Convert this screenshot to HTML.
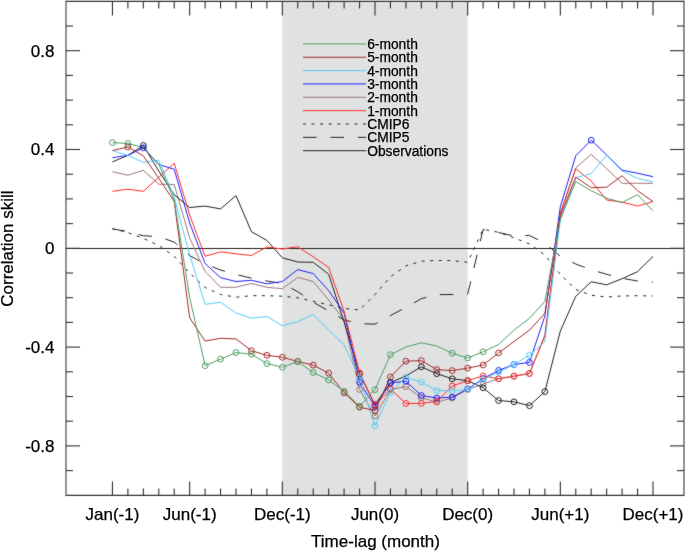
<!DOCTYPE html>
<html><head><meta charset="utf-8"><title>Correlation skill</title>
<style>html,body{margin:0;padding:0;background:#fff;}svg{display:block;}</style></head>
<body><svg width="685" height="551" viewBox="0 0 685 551" font-family='"Liberation Sans", Arial, Helvetica, sans-serif'><defs><filter id="bl" x="0" y="0" width="685" height="551" filterUnits="userSpaceOnUse" color-interpolation-filters="sRGB"><feConvolveMatrix order="3" kernelMatrix="1 2 1 2 28 2 1 2 1" edgeMode="duplicate" preserveAlpha="true"/></filter></defs><rect width="685" height="551" fill="#fff"/><g filter="url(#bl)"><rect width="685" height="551" fill="#fff"/>
<rect x="282.33" y="1.4" width="185.33" height="494.0" fill="#e0e1e1"/>
<line x1="66.0" y1="248.5" x2="684.0" y2="248.5" stroke="#222" stroke-width="1"/>
<polyline points="112.45,228.80 127.89,232.50 143.34,238.40 158.78,245.40 174.23,256.30 189.67,273.00 205.11,287.50 220.56,294.50 236.00,297.20 251.45,295.70 266.89,295.70 282.33,296.20 297.78,297.80 313.22,301.30 328.67,304.80 344.11,308.40 359.55,310.00 375.00,294.50 390.44,276.80 405.89,265.90 421.33,261.20 436.77,260.50 452.22,260.60 467.66,262.30 483.11,229.30 498.55,232.30 513.99,237.80 529.44,243.90 544.88,255.00 560.33,274.50 575.77,289.50 591.21,295.30 606.66,297.00 622.10,296.00 637.55,295.70 652.99,296.00" fill="none" stroke="#222" stroke-width="1" stroke-dasharray="3.0,5.56" stroke-dashoffset="0.4" stroke-linejoin="round"/>
<polyline points="112.45,228.80 127.89,231.60 143.34,235.80 158.78,236.50 174.23,242.20 189.67,255.50 205.11,264.00 220.56,270.00 236.00,274.50 251.45,278.20 266.89,281.00 282.33,283.50 297.78,291.70 313.22,302.20 328.67,311.00 344.11,320.00 359.55,323.60 375.00,324.20 390.44,315.50 405.89,307.40 421.33,298.70 436.77,294.70 452.22,294.50 467.66,294.30 483.11,229.50 498.55,232.50 513.99,236.00 529.44,235.50 544.88,243.00 560.33,256.30 575.77,264.00 591.21,269.80 606.66,274.30 622.10,278.30 637.55,281.00 652.99,282.20" fill="none" stroke="#222" stroke-width="1" stroke-dasharray="13.6,13.88" stroke-dashoffset="0.7" stroke-linejoin="round"/>
<polyline points="112.45,171.70 127.89,175.20 143.34,170.30 158.78,184.20 174.23,184.50 189.67,238.00 205.11,271.50 220.56,287.30 236.00,287.30 251.45,283.40 266.89,287.30 282.33,288.70 297.78,277.40 313.22,281.50 328.67,300.00 344.11,320.00 359.55,389.50 375.00,416.00 390.44,389.60 405.89,386.60 421.33,397.70 436.77,402.10 452.22,398.00 467.66,389.50 483.11,384.00 498.55,378.70 513.99,376.30 529.44,373.60 544.88,335.00 560.33,213.00 575.77,167.90 591.21,154.30 606.66,168.80 622.10,183.30 637.55,183.30 652.99,183.30" fill="none" stroke="#9c7676" stroke-width="1" stroke-linejoin="round"/>
<polyline points="112.45,161.90 127.89,155.40 143.34,145.50 158.78,171.00 174.23,194.60 189.67,207.50 205.11,206.10 220.56,208.90 236.00,195.60 251.45,231.70 266.89,240.40 282.33,257.80 297.78,262.00 313.22,262.30 328.67,274.20 344.11,322.00 359.55,374.00 375.00,404.70 390.44,382.50 405.89,376.00 421.33,366.80 436.77,373.70 452.22,378.80 467.66,380.70 483.11,387.80 498.55,400.50 513.99,401.80 529.44,405.70 544.88,391.60 560.33,331.00 575.77,296.30 591.21,281.80 606.66,284.80 622.10,278.70 637.55,271.70 652.99,256.40" fill="none" stroke="#222" stroke-width="1" stroke-linejoin="round"/>
<polyline points="112.45,157.70 127.89,155.40 143.34,147.80 158.78,164.50 174.23,169.30 189.67,223.00 205.11,263.50 220.56,277.70 236.00,281.50 251.45,280.30 266.89,283.80 282.33,281.50 297.78,269.60 313.22,273.60 328.67,290.60 344.11,313.00 359.55,382.30 375.00,406.50 390.44,383.00 405.89,381.20 421.33,395.50 436.77,398.10 452.22,397.10 467.66,388.90 483.11,378.60 498.55,370.40 513.99,364.50 529.44,362.40 544.88,316.00 560.33,206.70 575.77,155.70 591.21,140.20 606.66,154.80 622.10,170.20 637.55,173.20 652.99,176.70" fill="none" stroke="#2020ff" stroke-width="1" stroke-linejoin="round"/>
<polyline points="112.45,191.30 127.89,189.20 143.34,191.30 158.78,177.30 174.23,163.20 189.67,215.00 205.11,256.30 220.56,251.80 236.00,253.80 251.45,255.50 266.89,247.00 282.33,249.00 297.78,246.70 313.22,256.80 328.67,267.40 344.11,311.50 359.55,372.80 375.00,405.10 390.44,389.00 405.89,403.50 421.33,403.40 436.77,401.50 452.22,386.00 467.66,380.60 483.11,375.90 498.55,378.80 513.99,376.00 529.44,373.40 544.88,336.00 560.33,213.30 575.77,168.80 591.21,181.10 606.66,200.00 622.10,202.10 637.55,206.10 652.99,201.60" fill="none" stroke="#ff2a2a" stroke-width="1" stroke-linejoin="round"/>
<polyline points="112.45,150.50 127.89,155.40 143.34,162.30 158.78,160.20 174.23,197.00 189.67,255.00 205.11,304.30 220.56,302.30 236.00,312.80 251.45,318.10 266.89,316.50 282.33,325.80 297.78,321.50 313.22,314.50 328.67,330.00 344.11,344.70 359.55,378.20 375.00,425.80 390.44,392.30 405.89,377.40 421.33,382.10 436.77,390.60 452.22,390.80 467.66,389.50 483.11,379.40 498.55,372.20 513.99,364.40 529.44,355.20 544.88,341.50 560.33,220.00 575.77,177.60 591.21,173.70 606.66,155.10 622.10,171.00 637.55,178.40 652.99,181.90" fill="none" stroke="#55ccf5" stroke-width="1" stroke-linejoin="round"/>
<polyline points="112.45,150.50 127.89,147.00 143.34,155.80 158.78,178.30 174.23,201.50 189.67,317.70 205.11,341.10 220.56,338.30 236.00,338.90 251.45,350.70 266.89,355.30 282.33,357.30 297.78,361.40 313.22,365.10 328.67,373.20 344.11,392.80 359.55,407.20 375.00,410.50 390.44,377.00 405.89,361.20 421.33,360.60 436.77,369.60 452.22,370.60 467.66,368.10 483.11,365.00 498.55,353.00 513.99,341.50 529.44,330.20 544.88,313.30 560.33,215.70 575.77,177.20 591.21,187.70 606.66,187.20 622.10,175.80 637.55,190.70 652.99,201.60" fill="none" stroke="#a52a2a" stroke-width="1" stroke-linejoin="round"/>
<polyline points="112.45,142.60 127.89,143.50 143.34,147.50 158.78,164.00 174.23,200.00 189.67,297.50 205.11,365.70 220.56,359.10 236.00,352.60 251.45,354.20 266.89,363.60 282.33,367.20 297.78,361.60 313.22,372.50 328.67,380.00 344.11,391.30 359.55,406.30 375.00,389.70 390.44,354.70 405.89,347.00 421.33,342.80 436.77,346.00 452.22,353.20 467.66,358.00 483.11,351.80 498.55,344.50 513.99,330.20 529.44,318.30 544.88,301.50 560.33,219.00 575.77,181.60 591.21,190.70 606.66,198.20 622.10,202.60 637.55,194.60 652.99,210.80" fill="none" stroke="#4e9e62" stroke-width="1" stroke-linejoin="round"/>
<circle cx="359.55" cy="389.50" r="2.9" fill="none" stroke="#9c7676" stroke-width="1"/>
<circle cx="375.00" cy="416.00" r="2.9" fill="none" stroke="#9c7676" stroke-width="1"/>
<circle cx="390.44" cy="389.60" r="2.9" fill="none" stroke="#9c7676" stroke-width="1"/>
<circle cx="405.89" cy="386.60" r="2.9" fill="none" stroke="#9c7676" stroke-width="1"/>
<circle cx="421.33" cy="397.70" r="2.9" fill="none" stroke="#9c7676" stroke-width="1"/>
<circle cx="436.77" cy="402.10" r="2.9" fill="none" stroke="#9c7676" stroke-width="1"/>
<circle cx="452.22" cy="398.00" r="2.9" fill="none" stroke="#9c7676" stroke-width="1"/>
<circle cx="467.66" cy="389.50" r="2.9" fill="none" stroke="#9c7676" stroke-width="1"/>
<circle cx="483.11" cy="384.00" r="2.9" fill="none" stroke="#9c7676" stroke-width="1"/>
<circle cx="498.55" cy="378.70" r="2.9" fill="none" stroke="#9c7676" stroke-width="1"/>
<circle cx="513.99" cy="376.30" r="2.9" fill="none" stroke="#9c7676" stroke-width="1"/>
<circle cx="529.44" cy="373.60" r="2.9" fill="none" stroke="#9c7676" stroke-width="1"/>
<circle cx="143.34" cy="145.50" r="2.9" fill="none" stroke="#222" stroke-width="1"/>
<circle cx="359.55" cy="374.00" r="2.9" fill="none" stroke="#222" stroke-width="1"/>
<circle cx="375.00" cy="404.70" r="2.9" fill="none" stroke="#222" stroke-width="1"/>
<circle cx="390.44" cy="382.50" r="2.9" fill="none" stroke="#222" stroke-width="1"/>
<circle cx="421.33" cy="366.80" r="2.9" fill="none" stroke="#222" stroke-width="1"/>
<circle cx="436.77" cy="373.70" r="2.9" fill="none" stroke="#222" stroke-width="1"/>
<circle cx="452.22" cy="378.80" r="2.9" fill="none" stroke="#222" stroke-width="1"/>
<circle cx="467.66" cy="380.70" r="2.9" fill="none" stroke="#222" stroke-width="1"/>
<circle cx="483.11" cy="387.80" r="2.9" fill="none" stroke="#222" stroke-width="1"/>
<circle cx="498.55" cy="400.50" r="2.9" fill="none" stroke="#222" stroke-width="1"/>
<circle cx="513.99" cy="401.80" r="2.9" fill="none" stroke="#222" stroke-width="1"/>
<circle cx="529.44" cy="405.70" r="2.9" fill="none" stroke="#222" stroke-width="1"/>
<circle cx="544.88" cy="391.60" r="2.9" fill="none" stroke="#222" stroke-width="1"/>
<circle cx="143.34" cy="147.80" r="2.9" fill="none" stroke="#2020ff" stroke-width="1"/>
<circle cx="359.55" cy="382.30" r="2.9" fill="none" stroke="#2020ff" stroke-width="1"/>
<circle cx="375.00" cy="406.50" r="2.9" fill="none" stroke="#2020ff" stroke-width="1"/>
<circle cx="390.44" cy="383.00" r="2.9" fill="none" stroke="#2020ff" stroke-width="1"/>
<circle cx="405.89" cy="381.20" r="2.9" fill="none" stroke="#2020ff" stroke-width="1"/>
<circle cx="421.33" cy="395.50" r="2.9" fill="none" stroke="#2020ff" stroke-width="1"/>
<circle cx="436.77" cy="398.10" r="2.9" fill="none" stroke="#2020ff" stroke-width="1"/>
<circle cx="452.22" cy="397.10" r="2.9" fill="none" stroke="#2020ff" stroke-width="1"/>
<circle cx="467.66" cy="388.90" r="2.9" fill="none" stroke="#2020ff" stroke-width="1"/>
<circle cx="483.11" cy="378.60" r="2.9" fill="none" stroke="#2020ff" stroke-width="1"/>
<circle cx="498.55" cy="370.40" r="2.9" fill="none" stroke="#2020ff" stroke-width="1"/>
<circle cx="513.99" cy="364.50" r="2.9" fill="none" stroke="#2020ff" stroke-width="1"/>
<circle cx="529.44" cy="362.40" r="2.9" fill="none" stroke="#2020ff" stroke-width="1"/>
<circle cx="591.21" cy="140.20" r="2.9" fill="none" stroke="#2020ff" stroke-width="1"/>
<circle cx="359.55" cy="372.80" r="2.9" fill="none" stroke="#ff2a2a" stroke-width="1"/>
<circle cx="375.00" cy="405.10" r="2.9" fill="none" stroke="#ff2a2a" stroke-width="1"/>
<circle cx="390.44" cy="389.00" r="2.9" fill="none" stroke="#ff2a2a" stroke-width="1"/>
<circle cx="405.89" cy="403.50" r="2.9" fill="none" stroke="#ff2a2a" stroke-width="1"/>
<circle cx="421.33" cy="403.40" r="2.9" fill="none" stroke="#ff2a2a" stroke-width="1"/>
<circle cx="436.77" cy="401.50" r="2.9" fill="none" stroke="#ff2a2a" stroke-width="1"/>
<circle cx="452.22" cy="386.00" r="2.9" fill="none" stroke="#ff2a2a" stroke-width="1"/>
<circle cx="467.66" cy="380.60" r="2.9" fill="none" stroke="#ff2a2a" stroke-width="1"/>
<circle cx="483.11" cy="375.90" r="2.9" fill="none" stroke="#ff2a2a" stroke-width="1"/>
<circle cx="498.55" cy="378.80" r="2.9" fill="none" stroke="#ff2a2a" stroke-width="1"/>
<circle cx="513.99" cy="376.00" r="2.9" fill="none" stroke="#ff2a2a" stroke-width="1"/>
<circle cx="529.44" cy="373.40" r="2.9" fill="none" stroke="#ff2a2a" stroke-width="1"/>
<circle cx="359.55" cy="378.20" r="2.9" fill="none" stroke="#55ccf5" stroke-width="1"/>
<circle cx="375.00" cy="425.80" r="2.9" fill="none" stroke="#55ccf5" stroke-width="1"/>
<circle cx="390.44" cy="392.30" r="2.9" fill="none" stroke="#55ccf5" stroke-width="1"/>
<circle cx="405.89" cy="377.40" r="2.9" fill="none" stroke="#55ccf5" stroke-width="1"/>
<circle cx="421.33" cy="382.10" r="2.9" fill="none" stroke="#55ccf5" stroke-width="1"/>
<circle cx="436.77" cy="390.60" r="2.9" fill="none" stroke="#55ccf5" stroke-width="1"/>
<circle cx="452.22" cy="390.80" r="2.9" fill="none" stroke="#55ccf5" stroke-width="1"/>
<circle cx="467.66" cy="389.50" r="2.9" fill="none" stroke="#55ccf5" stroke-width="1"/>
<circle cx="483.11" cy="379.40" r="2.9" fill="none" stroke="#55ccf5" stroke-width="1"/>
<circle cx="498.55" cy="372.20" r="2.9" fill="none" stroke="#55ccf5" stroke-width="1"/>
<circle cx="513.99" cy="364.40" r="2.9" fill="none" stroke="#55ccf5" stroke-width="1"/>
<circle cx="529.44" cy="355.20" r="2.9" fill="none" stroke="#55ccf5" stroke-width="1"/>
<circle cx="127.89" cy="147.00" r="2.9" fill="none" stroke="#a52a2a" stroke-width="1"/>
<circle cx="251.45" cy="350.70" r="2.9" fill="none" stroke="#a52a2a" stroke-width="1"/>
<circle cx="266.89" cy="355.30" r="2.9" fill="none" stroke="#a52a2a" stroke-width="1"/>
<circle cx="282.33" cy="357.30" r="2.9" fill="none" stroke="#a52a2a" stroke-width="1"/>
<circle cx="297.78" cy="361.40" r="2.9" fill="none" stroke="#a52a2a" stroke-width="1"/>
<circle cx="313.22" cy="365.10" r="2.9" fill="none" stroke="#a52a2a" stroke-width="1"/>
<circle cx="328.67" cy="373.20" r="2.9" fill="none" stroke="#a52a2a" stroke-width="1"/>
<circle cx="344.11" cy="392.80" r="2.9" fill="none" stroke="#a52a2a" stroke-width="1"/>
<circle cx="359.55" cy="407.20" r="2.9" fill="none" stroke="#a52a2a" stroke-width="1"/>
<circle cx="375.00" cy="410.50" r="2.9" fill="none" stroke="#a52a2a" stroke-width="1"/>
<circle cx="390.44" cy="377.00" r="2.9" fill="none" stroke="#a52a2a" stroke-width="1"/>
<circle cx="405.89" cy="361.20" r="2.9" fill="none" stroke="#a52a2a" stroke-width="1"/>
<circle cx="421.33" cy="360.60" r="2.9" fill="none" stroke="#a52a2a" stroke-width="1"/>
<circle cx="436.77" cy="369.60" r="2.9" fill="none" stroke="#a52a2a" stroke-width="1"/>
<circle cx="452.22" cy="370.60" r="2.9" fill="none" stroke="#a52a2a" stroke-width="1"/>
<circle cx="467.66" cy="368.10" r="2.9" fill="none" stroke="#a52a2a" stroke-width="1"/>
<circle cx="483.11" cy="365.00" r="2.9" fill="none" stroke="#a52a2a" stroke-width="1"/>
<circle cx="498.55" cy="353.00" r="2.9" fill="none" stroke="#a52a2a" stroke-width="1"/>
<circle cx="112.45" cy="142.60" r="2.9" fill="none" stroke="#4e9e62" stroke-width="1"/>
<circle cx="127.89" cy="143.50" r="2.9" fill="none" stroke="#4e9e62" stroke-width="1"/>
<circle cx="205.11" cy="365.70" r="2.9" fill="none" stroke="#4e9e62" stroke-width="1"/>
<circle cx="220.56" cy="359.10" r="2.9" fill="none" stroke="#4e9e62" stroke-width="1"/>
<circle cx="236.00" cy="352.60" r="2.9" fill="none" stroke="#4e9e62" stroke-width="1"/>
<circle cx="251.45" cy="354.20" r="2.9" fill="none" stroke="#4e9e62" stroke-width="1"/>
<circle cx="266.89" cy="363.60" r="2.9" fill="none" stroke="#4e9e62" stroke-width="1"/>
<circle cx="282.33" cy="367.20" r="2.9" fill="none" stroke="#4e9e62" stroke-width="1"/>
<circle cx="297.78" cy="361.60" r="2.9" fill="none" stroke="#4e9e62" stroke-width="1"/>
<circle cx="313.22" cy="372.50" r="2.9" fill="none" stroke="#4e9e62" stroke-width="1"/>
<circle cx="328.67" cy="380.00" r="2.9" fill="none" stroke="#4e9e62" stroke-width="1"/>
<circle cx="344.11" cy="391.30" r="2.9" fill="none" stroke="#4e9e62" stroke-width="1"/>
<circle cx="359.55" cy="406.30" r="2.9" fill="none" stroke="#4e9e62" stroke-width="1"/>
<circle cx="375.00" cy="389.70" r="2.9" fill="none" stroke="#4e9e62" stroke-width="1"/>
<circle cx="390.44" cy="354.70" r="2.9" fill="none" stroke="#4e9e62" stroke-width="1"/>
<circle cx="452.22" cy="353.20" r="2.9" fill="none" stroke="#4e9e62" stroke-width="1"/>
<circle cx="467.66" cy="358.00" r="2.9" fill="none" stroke="#4e9e62" stroke-width="1"/>
<circle cx="483.11" cy="351.80" r="2.9" fill="none" stroke="#4e9e62" stroke-width="1"/>
<line x1="66.0" y1="0.8" x2="66.0" y2="496" stroke="#000" stroke-width="0.85"/>
<line x1="684.0" y1="0.8" x2="684.0" y2="496" stroke="#000" stroke-width="0.85"/>
<line x1="66.0" y1="1.4" x2="684.0" y2="1.4" stroke="#333" stroke-width="1.2"/>
<line x1="66.0" y1="495.4" x2="684.0" y2="495.4" stroke="#333" stroke-width="1.2"/>
<line x1="112.45" y1="495.4" x2="112.45" y2="481.4" stroke="#2e2e2e" stroke-width="1.1"/>
<line x1="112.45" y1="1.4" x2="112.45" y2="15.4" stroke="#2e2e2e" stroke-width="1.1"/>
<line x1="127.89" y1="495.4" x2="127.89" y2="488.4" stroke="#2e2e2e" stroke-width="1.1"/>
<line x1="127.89" y1="1.4" x2="127.89" y2="8.4" stroke="#2e2e2e" stroke-width="1.1"/>
<line x1="143.34" y1="495.4" x2="143.34" y2="488.4" stroke="#2e2e2e" stroke-width="1.1"/>
<line x1="143.34" y1="1.4" x2="143.34" y2="8.4" stroke="#2e2e2e" stroke-width="1.1"/>
<line x1="158.78" y1="495.4" x2="158.78" y2="488.4" stroke="#2e2e2e" stroke-width="1.1"/>
<line x1="158.78" y1="1.4" x2="158.78" y2="8.4" stroke="#2e2e2e" stroke-width="1.1"/>
<line x1="174.23" y1="495.4" x2="174.23" y2="488.4" stroke="#2e2e2e" stroke-width="1.1"/>
<line x1="174.23" y1="1.4" x2="174.23" y2="8.4" stroke="#2e2e2e" stroke-width="1.1"/>
<line x1="189.67" y1="495.4" x2="189.67" y2="481.4" stroke="#2e2e2e" stroke-width="1.1"/>
<line x1="189.67" y1="1.4" x2="189.67" y2="15.4" stroke="#2e2e2e" stroke-width="1.1"/>
<line x1="205.11" y1="495.4" x2="205.11" y2="488.4" stroke="#2e2e2e" stroke-width="1.1"/>
<line x1="205.11" y1="1.4" x2="205.11" y2="8.4" stroke="#2e2e2e" stroke-width="1.1"/>
<line x1="220.56" y1="495.4" x2="220.56" y2="488.4" stroke="#2e2e2e" stroke-width="1.1"/>
<line x1="220.56" y1="1.4" x2="220.56" y2="8.4" stroke="#2e2e2e" stroke-width="1.1"/>
<line x1="236.00" y1="495.4" x2="236.00" y2="488.4" stroke="#2e2e2e" stroke-width="1.1"/>
<line x1="236.00" y1="1.4" x2="236.00" y2="8.4" stroke="#2e2e2e" stroke-width="1.1"/>
<line x1="251.45" y1="495.4" x2="251.45" y2="488.4" stroke="#2e2e2e" stroke-width="1.1"/>
<line x1="251.45" y1="1.4" x2="251.45" y2="8.4" stroke="#2e2e2e" stroke-width="1.1"/>
<line x1="266.89" y1="495.4" x2="266.89" y2="488.4" stroke="#2e2e2e" stroke-width="1.1"/>
<line x1="266.89" y1="1.4" x2="266.89" y2="8.4" stroke="#2e2e2e" stroke-width="1.1"/>
<line x1="282.33" y1="495.4" x2="282.33" y2="481.4" stroke="#2e2e2e" stroke-width="1.1"/>
<line x1="282.33" y1="1.4" x2="282.33" y2="15.4" stroke="#2e2e2e" stroke-width="1.1"/>
<line x1="297.78" y1="495.4" x2="297.78" y2="488.4" stroke="#2e2e2e" stroke-width="1.1"/>
<line x1="297.78" y1="1.4" x2="297.78" y2="8.4" stroke="#2e2e2e" stroke-width="1.1"/>
<line x1="313.22" y1="495.4" x2="313.22" y2="488.4" stroke="#2e2e2e" stroke-width="1.1"/>
<line x1="313.22" y1="1.4" x2="313.22" y2="8.4" stroke="#2e2e2e" stroke-width="1.1"/>
<line x1="328.67" y1="495.4" x2="328.67" y2="488.4" stroke="#2e2e2e" stroke-width="1.1"/>
<line x1="328.67" y1="1.4" x2="328.67" y2="8.4" stroke="#2e2e2e" stroke-width="1.1"/>
<line x1="344.11" y1="495.4" x2="344.11" y2="488.4" stroke="#2e2e2e" stroke-width="1.1"/>
<line x1="344.11" y1="1.4" x2="344.11" y2="8.4" stroke="#2e2e2e" stroke-width="1.1"/>
<line x1="359.55" y1="495.4" x2="359.55" y2="488.4" stroke="#2e2e2e" stroke-width="1.1"/>
<line x1="359.55" y1="1.4" x2="359.55" y2="8.4" stroke="#2e2e2e" stroke-width="1.1"/>
<line x1="375.00" y1="495.4" x2="375.00" y2="481.4" stroke="#2e2e2e" stroke-width="1.1"/>
<line x1="375.00" y1="1.4" x2="375.00" y2="15.4" stroke="#2e2e2e" stroke-width="1.1"/>
<line x1="390.44" y1="495.4" x2="390.44" y2="488.4" stroke="#2e2e2e" stroke-width="1.1"/>
<line x1="390.44" y1="1.4" x2="390.44" y2="8.4" stroke="#2e2e2e" stroke-width="1.1"/>
<line x1="405.89" y1="495.4" x2="405.89" y2="488.4" stroke="#2e2e2e" stroke-width="1.1"/>
<line x1="405.89" y1="1.4" x2="405.89" y2="8.4" stroke="#2e2e2e" stroke-width="1.1"/>
<line x1="421.33" y1="495.4" x2="421.33" y2="488.4" stroke="#2e2e2e" stroke-width="1.1"/>
<line x1="421.33" y1="1.4" x2="421.33" y2="8.4" stroke="#2e2e2e" stroke-width="1.1"/>
<line x1="436.77" y1="495.4" x2="436.77" y2="488.4" stroke="#2e2e2e" stroke-width="1.1"/>
<line x1="436.77" y1="1.4" x2="436.77" y2="8.4" stroke="#2e2e2e" stroke-width="1.1"/>
<line x1="452.22" y1="495.4" x2="452.22" y2="488.4" stroke="#2e2e2e" stroke-width="1.1"/>
<line x1="452.22" y1="1.4" x2="452.22" y2="8.4" stroke="#2e2e2e" stroke-width="1.1"/>
<line x1="467.66" y1="495.4" x2="467.66" y2="481.4" stroke="#2e2e2e" stroke-width="1.1"/>
<line x1="467.66" y1="1.4" x2="467.66" y2="15.4" stroke="#2e2e2e" stroke-width="1.1"/>
<line x1="483.11" y1="495.4" x2="483.11" y2="488.4" stroke="#2e2e2e" stroke-width="1.1"/>
<line x1="483.11" y1="1.4" x2="483.11" y2="8.4" stroke="#2e2e2e" stroke-width="1.1"/>
<line x1="498.55" y1="495.4" x2="498.55" y2="488.4" stroke="#2e2e2e" stroke-width="1.1"/>
<line x1="498.55" y1="1.4" x2="498.55" y2="8.4" stroke="#2e2e2e" stroke-width="1.1"/>
<line x1="513.99" y1="495.4" x2="513.99" y2="488.4" stroke="#2e2e2e" stroke-width="1.1"/>
<line x1="513.99" y1="1.4" x2="513.99" y2="8.4" stroke="#2e2e2e" stroke-width="1.1"/>
<line x1="529.44" y1="495.4" x2="529.44" y2="488.4" stroke="#2e2e2e" stroke-width="1.1"/>
<line x1="529.44" y1="1.4" x2="529.44" y2="8.4" stroke="#2e2e2e" stroke-width="1.1"/>
<line x1="544.88" y1="495.4" x2="544.88" y2="488.4" stroke="#2e2e2e" stroke-width="1.1"/>
<line x1="544.88" y1="1.4" x2="544.88" y2="8.4" stroke="#2e2e2e" stroke-width="1.1"/>
<line x1="560.33" y1="495.4" x2="560.33" y2="481.4" stroke="#2e2e2e" stroke-width="1.1"/>
<line x1="560.33" y1="1.4" x2="560.33" y2="15.4" stroke="#2e2e2e" stroke-width="1.1"/>
<line x1="575.77" y1="495.4" x2="575.77" y2="488.4" stroke="#2e2e2e" stroke-width="1.1"/>
<line x1="575.77" y1="1.4" x2="575.77" y2="8.4" stroke="#2e2e2e" stroke-width="1.1"/>
<line x1="591.21" y1="495.4" x2="591.21" y2="488.4" stroke="#2e2e2e" stroke-width="1.1"/>
<line x1="591.21" y1="1.4" x2="591.21" y2="8.4" stroke="#2e2e2e" stroke-width="1.1"/>
<line x1="606.66" y1="495.4" x2="606.66" y2="488.4" stroke="#2e2e2e" stroke-width="1.1"/>
<line x1="606.66" y1="1.4" x2="606.66" y2="8.4" stroke="#2e2e2e" stroke-width="1.1"/>
<line x1="622.10" y1="495.4" x2="622.10" y2="488.4" stroke="#2e2e2e" stroke-width="1.1"/>
<line x1="622.10" y1="1.4" x2="622.10" y2="8.4" stroke="#2e2e2e" stroke-width="1.1"/>
<line x1="637.55" y1="495.4" x2="637.55" y2="488.4" stroke="#2e2e2e" stroke-width="1.1"/>
<line x1="637.55" y1="1.4" x2="637.55" y2="8.4" stroke="#2e2e2e" stroke-width="1.1"/>
<line x1="652.99" y1="495.4" x2="652.99" y2="481.4" stroke="#2e2e2e" stroke-width="1.1"/>
<line x1="652.99" y1="1.4" x2="652.99" y2="15.4" stroke="#2e2e2e" stroke-width="1.1"/>
<line x1="66.0" y1="470.60" x2="73.0" y2="470.60" stroke="#2e2e2e" stroke-width="1.1"/>
<line x1="684.0" y1="470.60" x2="677.0" y2="470.60" stroke="#2e2e2e" stroke-width="1.1"/>
<line x1="66.0" y1="445.90" x2="80.0" y2="445.90" stroke="#2e2e2e" stroke-width="1.1"/>
<line x1="684.0" y1="445.90" x2="670.0" y2="445.90" stroke="#2e2e2e" stroke-width="1.1"/>
<line x1="66.0" y1="421.20" x2="73.0" y2="421.20" stroke="#2e2e2e" stroke-width="1.1"/>
<line x1="684.0" y1="421.20" x2="677.0" y2="421.20" stroke="#2e2e2e" stroke-width="1.1"/>
<line x1="66.0" y1="396.50" x2="73.0" y2="396.50" stroke="#2e2e2e" stroke-width="1.1"/>
<line x1="684.0" y1="396.50" x2="677.0" y2="396.50" stroke="#2e2e2e" stroke-width="1.1"/>
<line x1="66.0" y1="371.80" x2="73.0" y2="371.80" stroke="#2e2e2e" stroke-width="1.1"/>
<line x1="684.0" y1="371.80" x2="677.0" y2="371.80" stroke="#2e2e2e" stroke-width="1.1"/>
<line x1="66.0" y1="347.10" x2="80.0" y2="347.10" stroke="#2e2e2e" stroke-width="1.1"/>
<line x1="684.0" y1="347.10" x2="670.0" y2="347.10" stroke="#2e2e2e" stroke-width="1.1"/>
<line x1="66.0" y1="322.40" x2="73.0" y2="322.40" stroke="#2e2e2e" stroke-width="1.1"/>
<line x1="684.0" y1="322.40" x2="677.0" y2="322.40" stroke="#2e2e2e" stroke-width="1.1"/>
<line x1="66.0" y1="297.70" x2="73.0" y2="297.70" stroke="#2e2e2e" stroke-width="1.1"/>
<line x1="684.0" y1="297.70" x2="677.0" y2="297.70" stroke="#2e2e2e" stroke-width="1.1"/>
<line x1="66.0" y1="273.00" x2="73.0" y2="273.00" stroke="#2e2e2e" stroke-width="1.1"/>
<line x1="684.0" y1="273.00" x2="677.0" y2="273.00" stroke="#2e2e2e" stroke-width="1.1"/>
<line x1="66.0" y1="248.30" x2="80.0" y2="248.30" stroke="#2e2e2e" stroke-width="1.1"/>
<line x1="684.0" y1="248.30" x2="670.0" y2="248.30" stroke="#2e2e2e" stroke-width="1.1"/>
<line x1="66.0" y1="223.60" x2="73.0" y2="223.60" stroke="#2e2e2e" stroke-width="1.1"/>
<line x1="684.0" y1="223.60" x2="677.0" y2="223.60" stroke="#2e2e2e" stroke-width="1.1"/>
<line x1="66.0" y1="198.90" x2="73.0" y2="198.90" stroke="#2e2e2e" stroke-width="1.1"/>
<line x1="684.0" y1="198.90" x2="677.0" y2="198.90" stroke="#2e2e2e" stroke-width="1.1"/>
<line x1="66.0" y1="174.20" x2="73.0" y2="174.20" stroke="#2e2e2e" stroke-width="1.1"/>
<line x1="684.0" y1="174.20" x2="677.0" y2="174.20" stroke="#2e2e2e" stroke-width="1.1"/>
<line x1="66.0" y1="149.50" x2="80.0" y2="149.50" stroke="#2e2e2e" stroke-width="1.1"/>
<line x1="684.0" y1="149.50" x2="670.0" y2="149.50" stroke="#2e2e2e" stroke-width="1.1"/>
<line x1="66.0" y1="124.80" x2="73.0" y2="124.80" stroke="#2e2e2e" stroke-width="1.1"/>
<line x1="684.0" y1="124.80" x2="677.0" y2="124.80" stroke="#2e2e2e" stroke-width="1.1"/>
<line x1="66.0" y1="100.10" x2="73.0" y2="100.10" stroke="#2e2e2e" stroke-width="1.1"/>
<line x1="684.0" y1="100.10" x2="677.0" y2="100.10" stroke="#2e2e2e" stroke-width="1.1"/>
<line x1="66.0" y1="75.40" x2="73.0" y2="75.40" stroke="#2e2e2e" stroke-width="1.1"/>
<line x1="684.0" y1="75.40" x2="677.0" y2="75.40" stroke="#2e2e2e" stroke-width="1.1"/>
<line x1="66.0" y1="50.70" x2="80.0" y2="50.70" stroke="#2e2e2e" stroke-width="1.1"/>
<line x1="684.0" y1="50.70" x2="670.0" y2="50.70" stroke="#2e2e2e" stroke-width="1.1"/>
<line x1="66.0" y1="26.00" x2="73.0" y2="26.00" stroke="#2e2e2e" stroke-width="1.1"/>
<line x1="684.0" y1="26.00" x2="677.0" y2="26.00" stroke="#2e2e2e" stroke-width="1.1"/>
<line x1="303" y1="43.90" x2="366" y2="43.90" stroke="#4e9e62" stroke-width="1"/>
<line x1="303" y1="57.25" x2="366" y2="57.25" stroke="#a52a2a" stroke-width="1"/>
<line x1="303" y1="70.60" x2="366" y2="70.60" stroke="#55ccf5" stroke-width="1"/>
<line x1="303" y1="83.95" x2="366" y2="83.95" stroke="#2020ff" stroke-width="1"/>
<line x1="303" y1="97.30" x2="366" y2="97.30" stroke="#9c7676" stroke-width="1"/>
<line x1="303" y1="110.65" x2="366" y2="110.65" stroke="#ff2a2a" stroke-width="1"/>
<line x1="303" y1="124.00" x2="366" y2="124.00" stroke="#222" stroke-width="1" stroke-dasharray="3.0,5.56"/>
<line x1="303" y1="137.35" x2="366" y2="137.35" stroke="#222" stroke-width="1" stroke-dasharray="13.6,13.88"/>
<line x1="303" y1="150.70" x2="366" y2="150.70" stroke="#222" stroke-width="1"/></g>
<g fill="#000" stroke="#000" stroke-width="0.25"><text x="112.45" y="520.3" text-anchor="middle" font-size="17">Jan(-1)</text>
<text x="189.67" y="520.3" text-anchor="middle" font-size="17">Jun(-1)</text>
<text x="282.33" y="520.3" text-anchor="middle" font-size="17">Dec(-1)</text>
<text x="375.00" y="520.3" text-anchor="middle" font-size="17">Jun(0)</text>
<text x="467.66" y="520.3" text-anchor="middle" font-size="17">Dec(0)</text>
<text x="560.33" y="520.3" text-anchor="middle" font-size="17">Jun(+1)</text>
<text x="652.99" y="520.3" text-anchor="middle" font-size="17">Dec(+1)</text>
<text x="54.5" y="56.50" text-anchor="end" font-size="17">0.8</text>
<text x="54.5" y="155.30" text-anchor="end" font-size="17">0.4</text>
<text x="54.5" y="254.10" text-anchor="end" font-size="17">0</text>
<text x="54.5" y="352.90" text-anchor="end" font-size="17">-0.4</text>
<text x="54.5" y="451.70" text-anchor="end" font-size="17">-0.8</text>
<text x="375.5" y="547" text-anchor="middle" font-size="17">Time-lag (month)</text>
<text transform="translate(12.9,248.6) rotate(-90)" text-anchor="middle" font-size="17">Correlation skill</text>
<text x="367.2" y="49.00" font-size="13.8">6-month</text>
<text x="367.2" y="62.35" font-size="13.8">5-month</text>
<text x="367.2" y="75.70" font-size="13.8">4-month</text>
<text x="367.2" y="89.05" font-size="13.8">3-month</text>
<text x="367.2" y="102.40" font-size="13.8">2-month</text>
<text x="367.2" y="115.75" font-size="13.8">1-month</text>
<text x="367.2" y="129.10" font-size="13.8">CMIP6</text>
<text x="367.2" y="142.45" font-size="13.8">CMIP5</text>
<text x="367.2" y="155.80" font-size="13.8">Observations</text></g></svg></body></html>
